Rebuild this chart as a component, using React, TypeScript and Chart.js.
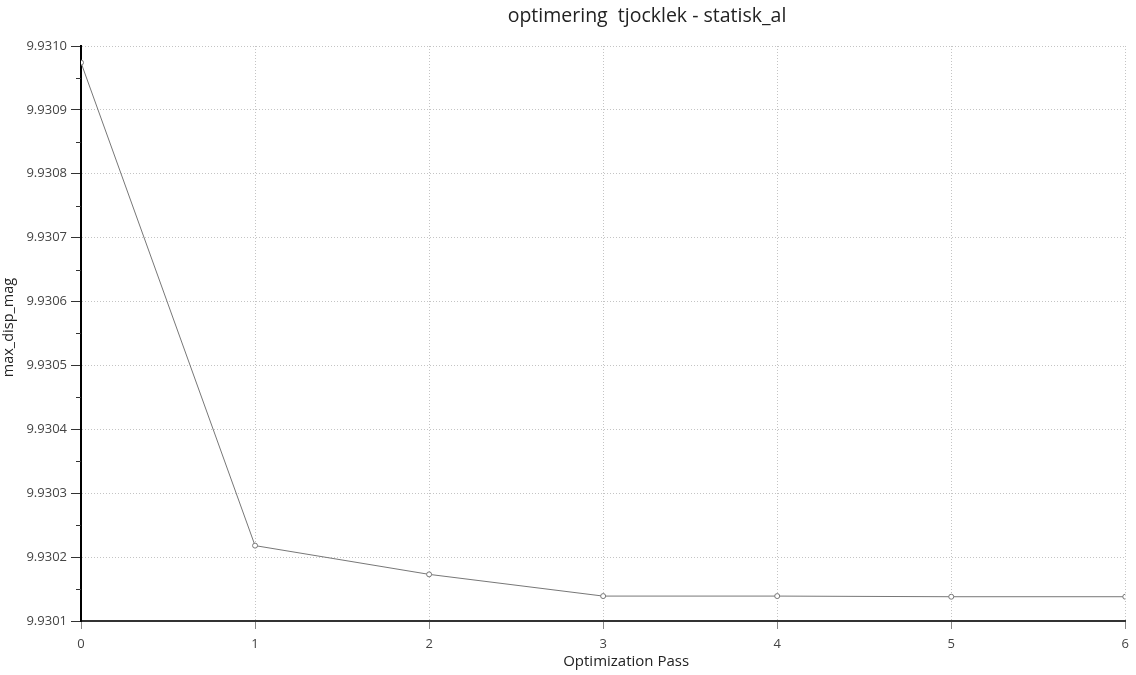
import React, { useEffect, useRef } from "react";
import { Chart, registerables } from "chart.js";

Chart.register(...registerables);

const passes = [0, 1, 2, 3, 4, 5, 6];
const maxDispMag = [9.930974, 9.930218, 9.930173, 9.930139, 9.930139, 9.930138, 9.930138];
const minorTicks = [9.93015, 9.93025, 9.93035, 9.93045, 9.93055, 9.93065, 9.93075, 9.93085, 9.93095];
const chartTitle = "optimering  tjocklek - statisk_al";
const xTitle = "Optimization Pass";
const yTitle = "max_disp_mag";

const FONT = "'Open Sans', 'Noto Sans', sans-serif";

const textPlugin = {
  id: "customText",
  afterDraw(chart: any) {
    const { ctx, chartArea, scales } = chart;
    ctx.save();
    // minor ticks on y axis
    const y = scales.y;
    ctx.strokeStyle = "#333";
    ctx.lineWidth = 1;
    minorTicks.forEach((v) => {
      const py = Math.round(y.getPixelForValue(v)) + 0.5;
      ctx.beginPath();
      ctx.moveTo(chartArea.left - 5, py);
      ctx.lineTo(chartArea.left, py);
      ctx.stroke();
    });
    ctx.fillStyle = "#222";
    ctx.textAlign = "center";
    ctx.textBaseline = "middle";
    ctx.font = `19.5px ${FONT}`;
    ctx.fillText(chartTitle, chartArea.left + (chartArea.right - chartArea.left) * 0.542, 16);
    ctx.font = `15px ${FONT}`;
    ctx.fillText(xTitle, chartArea.left + (chartArea.right - chartArea.left) * 0.522, 662);
    ctx.translate(9, (chartArea.top + chartArea.bottom) / 2 - 6);
    ctx.rotate(-Math.PI / 2);
    ctx.font = `14.5px ${FONT}`;
    ctx.fillText(yTitle, 0, 0);
    ctx.restore();
  },
};

export default function App() {
  const ref = useRef<HTMLCanvasElement | null>(null);
  useEffect(() => {
    document.body.style.margin = "0";
    if (!ref.current) return;
    const chart = new Chart(ref.current, {
      type: "scatter",
      data: {
        datasets: [
          {
            data: passes.map((p, i) => ({ x: p, y: maxDispMag[i] })),
            showLine: true,
            borderColor: "#777",
            borderWidth: 1,
            pointRadius: 2.5,
            pointBorderWidth: 1,
            pointBorderColor: "#777",
            pointBackgroundColor: "#fff",
          },
        ],
      },
      options: {
        animation: false,
        responsive: false,
        maintainAspectRatio: false,
        layout: { padding: { top: 46, right: 10, left: 0, bottom: 0 } },
        plugins: { legend: { display: false }, title: { display: false }, tooltip: { enabled: false } },
        scales: {
          x: {
            type: "linear",
            min: 0,
            max: 6,
            afterFit: (s: any) => {
              s.height = 54;
            },
            ticks: { stepSize: 1, color: "#444", font: { family: FONT, size: 13 }, padding: 7 },
            grid: { color: "#c4c4c4", tickColor: "#888", tickLength: 8, lineWidth: 1 },
            border: { color: "#333", width: 2, dash: [1, 2] },
          },
          y: {
            type: "linear",
            min: 9.9301,
            max: 9.931,
            afterFit: (s: any) => {
              s.width = 81;
            },
            ticks: {
              stepSize: 0.0001,
              color: "#444",
              font: { family: FONT, size: 13 },
              padding: 4,
              callback: (v: any) => Number(v).toFixed(4),
            },
            grid: { color: "#c4c4c4", tickColor: "#333", tickLength: 10, lineWidth: 1 },
            border: { color: "#000", width: 2, dash: [1, 2] },
          },
        },
      },
      plugins: [textPlugin],
    } as any);
    return () => chart.destroy();
  }, []);
  return (
    <div style={{ width: 1136, height: 675, background: "#fff" }}>
      <canvas ref={ref} width={1136} height={675} style={{ display: "block" }} />
    </div>
  );
}
